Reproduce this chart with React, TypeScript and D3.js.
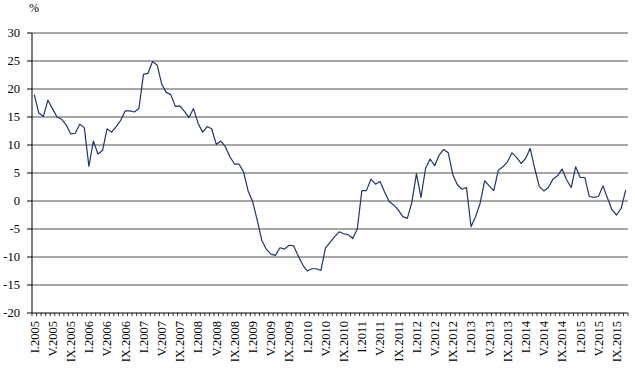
import * as d3 from 'd3'

// monthly growth, % (I.2005 .. XI.2015)
const v2005 = [19.0, 15.7, 15.1, 18.0, 16.5, 15.0, 14.6, 13.6, 12.0, 12.1, 13.7, 13.1]
const v2006 = [6.2, 10.7, 8.4, 9.0, 12.9, 12.3, 13.3, 14.4, 16.1, 16.1, 15.9, 16.5]
const v2007 = [22.6, 22.8, 24.9, 24.3, 20.9, 19.4, 19.0, 16.9, 17.0, 16.0, 14.9, 16.5]
const v2008 = [13.9, 12.3, 13.3, 12.9, 10.1, 10.7, 9.7, 7.9, 6.6, 6.6, 5.2, 1.8]
const v2009 = [-0.1, -3.4, -7.0, -8.6, -9.5, -9.7, -8.35, -8.6, -7.9, -8.0, -9.8, -11.4]
const v2010 = [-12.5, -12.1, -12.1, -12.4, -8.4, -7.4, -6.4, -5.5, -5.85, -6.0, -6.7, -5.0]
const v2011 = [1.85, 1.85, 3.9, 3.0, 3.5, 1.6, -0.1, -0.7, -1.6, -2.8, -3.1, -0.2]
const v2012 = [4.9, 0.65, 5.8, 7.5, 6.3, 8.2, 9.2, 8.6, 4.7, 2.9, 2.1, 2.4]
const v2013 = [-4.6, -2.8, -0.4, 3.6, 2.7, 1.85, 5.5, 6.1, 7.0, 8.6, 7.8, 6.7]
const v2014 = [7.6, 9.4, 5.8, 2.6, 1.8, 2.4, 3.9, 4.5, 5.7, 3.8, 2.4, 6.1]
const v2015 = [4.2, 4.2, 0.8, 0.65, 0.8, 2.7, 0.5, -1.6, -2.5, -1.3, 2.0]

const years = [2005, 2006, 2007, 2008, 2009, 2010, 2011, 2012, 2013, 2014, 2015]
const romans = ['I', 'II', 'III', 'IV', 'V', 'VI', 'VII', 'VIII', 'IX', 'X', 'XI', 'XII']
const yTicks = [-20, -15, -10, -5, 0, 5, 10, 15, 20, 25, 30]

const values = [...v2005, ...v2006, ...v2007, ...v2008, ...v2009, ...v2010,
  ...v2011, ...v2012, ...v2013, ...v2014, ...v2015]
const months: string[] = []
years.forEach(y => romans.forEach(r => months.push(r + '.' + y)))
const cats = months.slice(0, values.length)

const W = 635, H = 370
const left = 32, right = 628, top = 33, bottom = 313

function App() {
  const x = d3.scaleBand().domain(cats).range([left, right])
  const y = d3.scaleLinear().domain([-20, 30]).range([bottom, top])
  const line = d3.line<number>()
    .x((d, i) => x(cats[i])! + x.bandwidth() / 2)
    .y(d => y(d))

  return (
    <svg width={W} height={H}
      style={{ position: 'absolute', left: 0, top: 0, background: '#fff', fontFamily: 'Liberation Serif, serif' }}>
      {/* grid */}
      {yTicks.filter(t => t !== -20).map(t => (
        <line key={t} x1={left} x2={right} y1={y(t)} y2={y(t)} stroke="#8a8a8a" strokeWidth={1.6} />
      ))}
      {/* y ticks + labels */}
      {yTicks.map(t => (
        <g key={'yl' + t}>
          <line x1={left - 5} x2={left} y1={y(t)} y2={y(t)} stroke="#000" strokeWidth={1} />
          <text x={20} y={y(t)} dy="0.35em" textAnchor="end" fontSize={12.5}>{t}</text>
        </g>
      ))}
      <text x={29} y={12} fontSize={12}>%</text>
      {/* axes */}
      <line x1={left} x2={left} y1={top} y2={bottom} stroke="#000" strokeWidth={1} />
      <line x1={left} x2={right} y1={bottom} y2={bottom} stroke="#000" strokeWidth={1} />
      {cats.map(c => (
        <line key={'xt' + c} x1={x(c)!} x2={x(c)!} y1={bottom} y2={bottom + 3} stroke="#000" strokeWidth={0.8} />
      ))}
      <line x1={right} x2={right} y1={bottom} y2={bottom + 3} stroke="#000" strokeWidth={0.8} />
      {cats.map((c, i) => i % 4 === 0 ? (
        <text key={'xl' + c} fontSize={12.5} textAnchor="end" dy="0.35em"
          transform={`translate(${x(c)! + x.bandwidth() / 2},${bottom + 8}) rotate(-90)`}>{c}</text>
      ) : null)}
      {/* series */}
      <path d={line(values)!} fill="none" stroke="#22336e" strokeWidth={1.2} strokeLinejoin="round" />
    </svg>
  )
}

export default App
